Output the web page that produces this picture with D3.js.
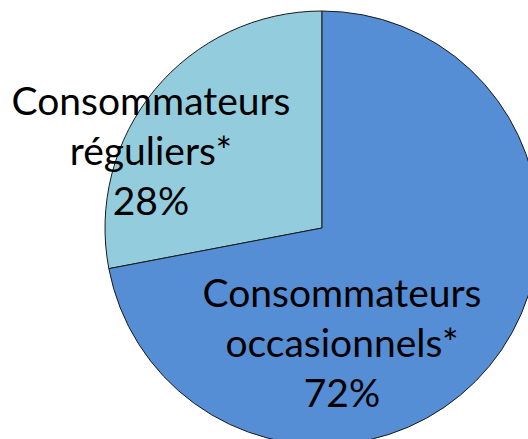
<!DOCTYPE html>
<html>
<head>
    <meta charset="utf-8">
    <script src="https://d3js.org/d3.v7.min.js"></script>
    <style>
        body { margin: 0; background: #fff; }
        svg { display: block; }
        .label { font-family: Lato, "Open Sans", sans-serif; font-size: 39px; fill: #000; }
    </style>
</head>
<body>
    <div id="chart"></div>
    <script>
        // Shares of consumers
        const categories = ["Consommateurs réguliers*", "Consommateurs occasionnels*"];
        const labelLines = [["Consommateurs", "réguliers*"], ["Consommateurs", "occasionnels*"]];
        const values = [28, 72];
        const colors = ["#93CDDD", "#558ED5"];

        const width = 528, height = 439;
        const cx = 322, cy = 228, radius = 217;

        const svg = d3.select("#chart").append("svg")
            .attr("width", width)
            .attr("height", height);

        const g = svg.append("g")
            .attr("transform", `translate(${cx},${cy})`);

        // regular consumers sit counter-clockwise from 12 o'clock
        const pie = d3.pie()
            .sort(null)
            .startAngle(0)
            .endAngle(-2 * Math.PI)
            .value(d => d);

        const arcs = pie(values);
        const arc = d3.arc().innerRadius(0).outerRadius(radius);

        g.selectAll("path.slice")
            .data(arcs)
            .enter().append("path")
            .attr("class", "slice")
            .attr("d", arc)
            .attr("fill", (d, i) => colors[i])
            .attr("stroke", "#1a1a1a")
            .attr("stroke-width", 1);

        // label anchors relative to the centre (Excel-style placement)
        const labelPos = [[-171, -113], [20, 79]];
        const lineH = 50;

        const labels = g.selectAll("text.label")
            .data(arcs)
            .enter().append("text")
            .attr("class", "label")
            .attr("text-anchor", "middle")
            .attr("transform", (d, i) => `translate(${labelPos[i][0]},${labelPos[i][1]})`);

        labels.each(function(d, i) {
            const t = d3.select(this);
            const lines = labelLines[i].concat([values[i] + "%"]);
            lines.forEach((line, j) => {
                t.append("tspan")
                    .attr("x", 0)
                    .attr("y", j * lineH)
                    .text(line);
            });
        });
    </script>
</body>
</html>
